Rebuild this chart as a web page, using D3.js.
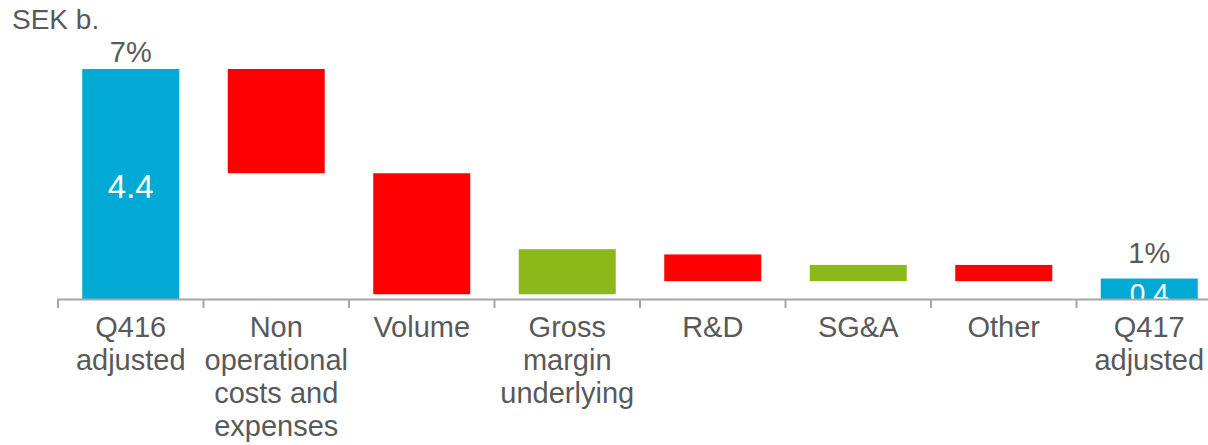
<!DOCTYPE html>
<html>
<head>
<meta charset="utf-8">
<script src="https://cdn.jsdelivr.net/npm/d3@7"></script>
<style>
    body { margin: 0; background: #fff; }
    svg { display: block; font-family: "Liberation Sans", Arial, sans-serif; }
</style>
</head>
<body>
<svg class="chart" width="1208" height="445"></svg>
<script>
// data (SEK b.)
const categories = [
    ["Q416", "adjusted"],
    ["Non", "operational", "costs and", "expenses"],
    ["Volume"],
    ["Gross", "margin", "underlying"],
    ["R&D"],
    ["SG&A"],
    ["Other"],
    ["Q417", "adjusted"]
];
const barStart = [0, 4.4, 2.41, 0.1, 0.86, 0.35, 0.66, 0];
const barEnd = [4.4, 2.41, 0.1, 0.96, 0.35, 0.66, 0.35, 0.4];
const barType = ["total", "down", "down", "up", "down", "up", "down", "total"];
const valueLabels = ["4.4", "", "", "", "", "", "", "0.4"];
const marginLabels = ["7%", "", "", "", "", "", "", "1%"];

const colors = { total: "#00AAD4", down: "#FF0000", up: "#8CB91A" };
const textColor = "#595959";

const svg = d3.select(".chart");

const xScale = d3.scaleBand()
    .domain(d3.range(categories.length))
    .range([58, 1222])
    .paddingInner(1 / 3)
    .paddingOuter(1 / 6);

const yScale = d3.scaleLinear().domain([0, 4.4]).range([299.5, 69]);

// unit
svg.append("text")
    .attr("x", 12)
    .attr("y", 29)
    .text("SEK b.")
    .style("font-size", "28px")
    .style("fill", textColor);

// bars
svg.append("g")
    .selectAll("rect")
    .data(d3.range(categories.length))
    .join("rect")
    .attr("x", i => xScale(i))
    .attr("width", xScale.bandwidth())
    .attr("y", i => yScale(Math.max(barStart[i], barEnd[i])))
    .attr("height", i => Math.abs(yScale(barStart[i]) - yScale(barEnd[i])))
    .style("fill", i => colors[barType[i]]);

// values inside the total bars
svg.append("g")
    .selectAll("text")
    .data(d3.range(categories.length).filter(i => valueLabels[i]))
    .join("text")
    .attr("x", i => xScale(i) + xScale.bandwidth() / 2)
    .attr("y", i => i === 0 ? 198 : 303)
    .attr("text-anchor", "middle")
    .text(i => valueLabels[i])
    .style("font-size", i => i === 0 ? "33px" : "28px")
    .style("fill", "#fff");

// margin labels above (small bar gets its label a bit higher)
svg.append("g")
    .selectAll("text")
    .data(d3.range(categories.length).filter(i => marginLabels[i]))
    .join("text")
    .attr("x", i => xScale(i) + xScale.bandwidth() / 2)
    .attr("y", i => yScale(barEnd[i]) - (i === 0 ? 7 : 16))
    .attr("text-anchor", "middle")
    .text(i => marginLabels[i])
    .style("font-size", "29px")
    .style("fill", textColor);

// x axis line + ticks between the categories
const gap = xScale.step() * xScale.paddingInner() / 2;
svg.append("line")
    .attr("x1", 57)
    .attr("x2", 1208)
    .attr("y1", 299.5)
    .attr("y2", 299.5)
    .style("stroke", "#A6A6A6")
    .style("stroke-width", 2);

svg.append("g")
    .selectAll("line")
    .data(d3.range(categories.length))
    .join("line")
    .attr("x1", i => xScale(i) - gap)
    .attr("x2", i => xScale(i) - gap)
    .attr("y1", 299.5)
    .attr("y2", 308)
    .style("stroke", "#A6A6A6")
    .style("stroke-width", 2);

// category labels
svg.append("g")
    .selectAll("text")
    .data(d3.range(categories.length))
    .join("text")
    .attr("x", i => xScale(i) + xScale.bandwidth() / 2)
    .attr("y", 336.5)
    .attr("text-anchor", "middle")
    .style("font-size", "29px")
    .style("fill", textColor)
    .selectAll("tspan")
    .data(i => categories[i].map((line, k) => ({ line, k, i })))
    .join("tspan")
    .attr("x", d => xScale(d.i) + xScale.bandwidth() / 2)
    .attr("dy", d => d.k === 0 ? 0 : 33)
    .text(d => d.line);
</script>
</body>
</html>
